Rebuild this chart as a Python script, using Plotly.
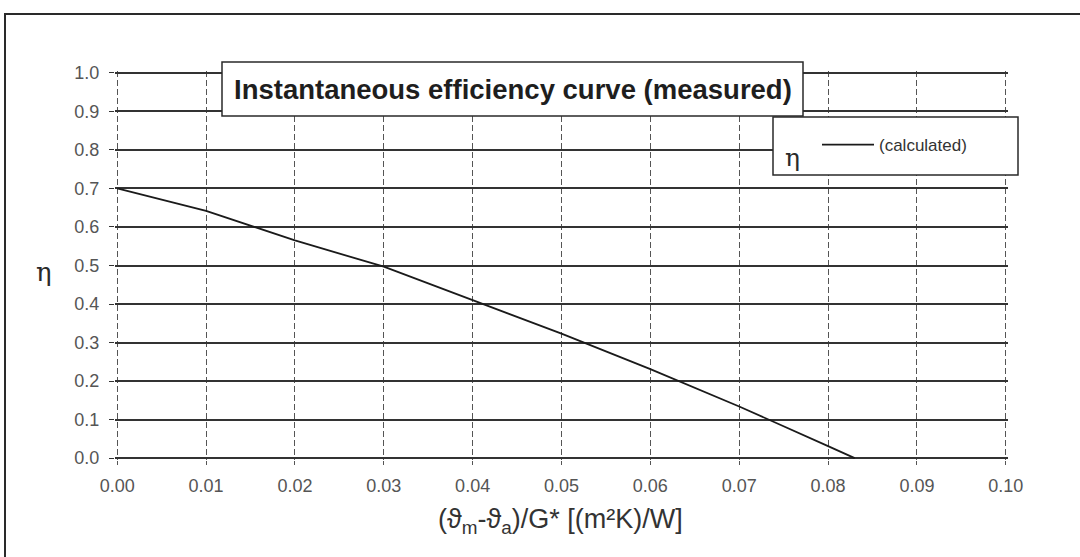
import plotly.graph_objects as go

# Measured points of the instantaneous efficiency curve
x_vals = [0.0, 0.01, 0.02, 0.03, 0.04, 0.05, 0.06, 0.07, 0.08, 0.083]
eta_vals = [0.70, 0.642, 0.565, 0.497, 0.410, 0.323, 0.231, 0.134, 0.031, 0.0]

x_ticks = [0.00, 0.01, 0.02, 0.03, 0.04, 0.05, 0.06, 0.07, 0.08, 0.09, 0.10]
y_ticks = [0.0, 0.1, 0.2, 0.3, 0.4, 0.5, 0.6, 0.7, 0.8, 0.9, 1.0]

W, H = 1080, 557
ML, MR, MT, MB = 115, 72, 71, 97
PW, PH = W - ML - MR, H - MT - MB


def px(x):
    return (x - ML) / PW


def py(y):
    return (H - MB - y) / PH


INK = "#2a2a2a"
FONT = "Liberation Sans, Arial, sans-serif"

fig = go.Figure()
fig.add_trace(go.Scatter(
    x=x_vals, y=eta_vals, mode="lines", name="(calculated)",
    line=dict(color="#1a1a1a", width=1.8),
))

shapes = [
    # outer frame
    dict(type="rect", xref="paper", yref="paper",
         x0=px(5), x1=px(1100), y0=py(14), y1=py(575),
         line=dict(color=INK, width=2), fillcolor="rgba(0,0,0,0)", layer="below"),
    # title box
    dict(type="rect", xref="paper", yref="paper",
         x0=px(222), x1=px(803), y0=py(62), y1=py(116),
         line=dict(color=INK, width=1.5), fillcolor="white", layer="above"),
    # legend box
    dict(type="rect", xref="paper", yref="paper",
         x0=px(773), x1=px(1018), y0=py(117), y1=py(175),
         line=dict(color=INK, width=1.5), fillcolor="white", layer="above"),
]

annotations = [
    dict(text="<b>Instantaneous efficiency curve (measured)</b>",
         xref="paper", yref="paper", x=px(513), y=py(89),
         xanchor="center", yanchor="middle", showarrow=False,
         font=dict(family=FONT, size=27.5, color="#1e1e1e")),
    dict(text="η", xref="paper", yref="paper", x=px(792), y=py(157),
         xanchor="center", yanchor="middle", showarrow=False,
         font=dict(family="DejaVu Serif, serif", size=25, color=INK)),
    dict(text="η", xref="paper", yref="paper", x=px(44), y=py(272),
         xanchor="center", yanchor="middle", showarrow=False,
         font=dict(family="DejaVu Serif, serif", size=26, color=INK)),
    dict(text="(ϑ<sub>m</sub>-ϑ<sub>a</sub>)/G* [(m²K)/W]",
         xref="paper", yref="paper", x=px(560), y=py(521),
         xanchor="center", yanchor="middle", showarrow=False,
         font=dict(family=FONT, size=27, color="#333333")),
]

fig.update_layout(
    width=W, height=H,
    margin=dict(l=ML, r=MR, t=MT, b=MB, pad=0),
    paper_bgcolor="white", plot_bgcolor="white",
    showlegend=True,
    legend=dict(x=px(817), y=py(145), xanchor="left", yanchor="middle",
                bgcolor="rgba(0,0,0,0)", borderwidth=0,
                font=dict(family=FONT, size=17, color="#333333"),
                itemwidth=52),
    shapes=shapes,
    annotations=annotations,
    # ranges padded slightly so the edge grid lines are still drawn
    xaxis=dict(range=[-0.00025, 0.10025], tickvals=x_ticks,
               ticktext=[f"{v:.2f}" for v in x_ticks],
               showgrid=True, gridcolor="#555555", gridwidth=1,
               griddash="6px,3px", zeroline=False, showline=False,
               ticks="outside", ticklen=4, tickcolor="#555555",
               ticklabelstandoff=5,
               tickfont=dict(family=FONT, size=18, color="#555555")),
    yaxis=dict(range=[-0.005, 1.005], tickvals=y_ticks,
               ticktext=[f"{v:.1f}" for v in y_ticks],
               showgrid=True, gridcolor="#333333", gridwidth=1.5,
               zeroline=False, showline=False,
               ticks="outside", ticklen=5, tickcolor="#333333",
               ticklabelstandoff=6,
               tickfont=dict(family=FONT, size=18, color="#555555")),
)

fig.write_html("out.html")
